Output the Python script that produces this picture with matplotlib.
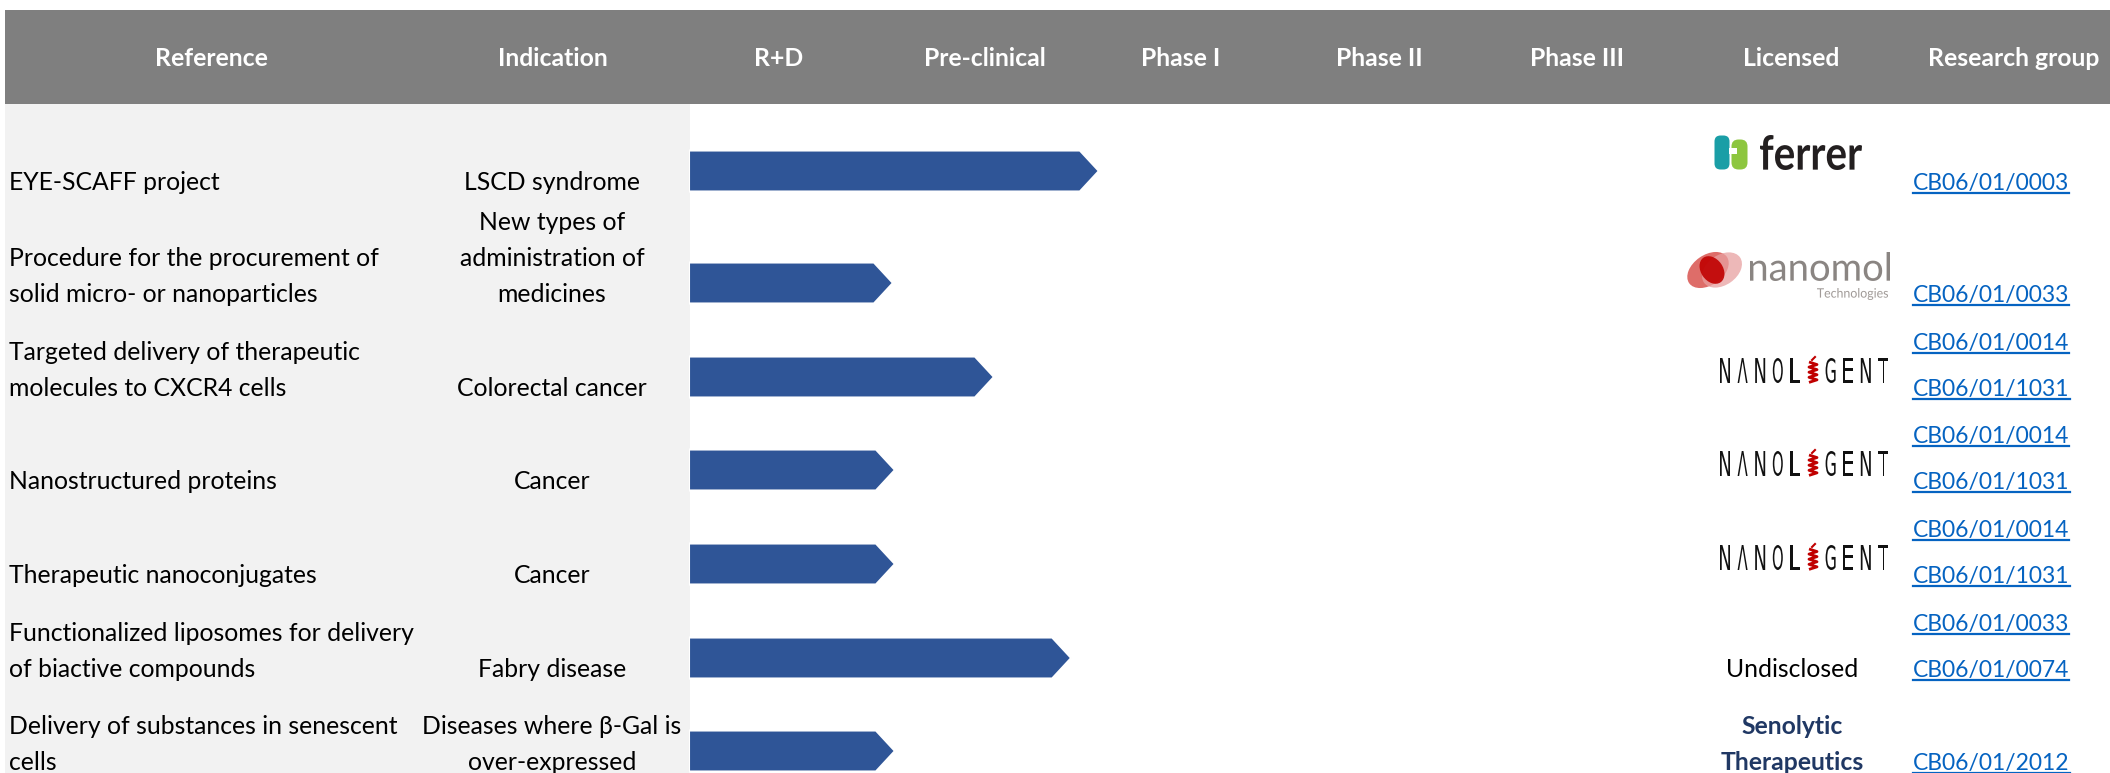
import matplotlib
matplotlib.use("Agg")
import matplotlib.pyplot as plt
from matplotlib.patches import Rectangle, PathPatch, Ellipse, FancyBboxPatch
from matplotlib.textpath import TextPath
from matplotlib.font_manager import FontProperties
from matplotlib.transforms import Affine2D

plt.rcParams['font.family'] = ['Lato', 'DejaVu Sans']

# ---------------- data ----------------
headers = ['Reference', 'Indication', 'R+D', 'Pre-clinical', 'Phase I',
           'Phase II', 'Phase III', 'Licensed', 'Research group']
stages = ['R+D', 'Pre-clinical', 'Phase I', 'Phase II', 'Phase III']
references = ['EYE-SCAFF project',
              'Procedure for the procurement of\nsolid micro- or nanoparticles',
              'Targeted delivery of therapeutic\nmolecules to CXCR4 cells',
              'Nanostructured proteins',
              'Therapeutic nanoconjugates',
              'Functionalized liposomes for delivery\nof biactive compounds',
              'Delivery of substances in senescent\ncells']
indications = ['LSCD syndrome',
               'New types of\nadministration of\nmedicines',
               'Colorectal cancer',
               'Cancer',
               'Cancer',
               'Fabry disease',
               'Diseases where \u03b2-Gal is\nover-expressed']
progress = [2.07, 1.03, 1.54, 1.04, 1.04, 1.93, 1.04]   # in stage-column units
licensed = ['ferrer', 'nanomol', 'nanoligent', 'nanoligent', 'nanoligent',
            'Undisclosed', 'Senolytic\nTherapeutics']
groups = [['CB06/01/0003'],
          ['CB06/01/0033'],
          ['CB06/01/0014', 'CB06/01/1031'],
          ['CB06/01/0014', 'CB06/01/1031'],
          ['CB06/01/0014', 'CB06/01/1031'],
          ['CB06/01/0033', 'CB06/01/0074'],
          ['CB06/01/2012']]

# ---------------- layout ----------------
W, H = 2110, 773
row_base = [190, 302, 396, 489, 583, 677, 770]   # baseline of last text line
line_gap = 36
link_gap = 46
header_x = [211, 553, 779, 985, 1181, 1379, 1577, 1791, 2014]
FS = 17.8
FS_LINK = 16.5

fig = plt.figure(figsize=(W / 100, H / 100), dpi=100)
ax = fig.add_axes([0, 0, 1, 1])
ax.set_xlim(0, W)
ax.set_ylim(H, 0)
ax.axis('off')

# header band and left panel
ax.add_patch(Rectangle((5, 10), W - 5, 94, color='#7f7f7f', lw=0, zorder=1))
ax.add_patch(Rectangle((5, 104), 685, H - 104, color='#f2f2f2', lw=0, zorder=1))

for hx, h in zip(header_x, headers):
    ax.text(hx, 66, h, color='white', fontsize=FS, fontweight='bold',
            ha='center', va='baseline', zorder=3)


def lines_text(x, base, s, ha='left', **kw):
    parts = s.split('\n')
    n = len(parts)
    for k, p in enumerate(parts):
        ax.text(x, base - (n - 1 - k) * line_gap, p, ha=ha, va='baseline',
                fontsize=FS, zorder=3, **kw)


for i in range(len(references)):
    lines_text(9, row_base[i], references[i], color='black')
    lines_text(552, row_base[i], indications[i], ha='center', color='black')

# arrows in a stage-scaled axes
bx0, bw = 689, 5 * 198
axb = fig.add_axes([bx0 / W, 0, bw / W, 1])
axb.set_xlim(0, len(stages))
axb.set_ylim(H, 0)
axb.axis('off')
axb.patch.set_alpha(0)
for i, p in enumerate(progress):
    yc = row_base[i] - 19
    axb.arrow(0, yc, p, 0, width=41, head_width=41, head_length=19 / 198,
              length_includes_head=True, fc='#2f5597', ec='white', lw=1.5,
              zorder=4)


def fit_text(s, x0, x1, ytop, ybot, color, family='DejaVu Sans',
             weight='normal'):
    tp = TextPath((0, 0), s, size=100,
                  prop=FontProperties(family=family, weight=weight))
    bb = tp.get_extents()
    tr = (Affine2D().translate(-bb.x0, -bb.y0)
          .scale((x1 - x0) / bb.width, -(ybot - ytop) / bb.height)
          .translate(x0, ybot))
    ax.add_patch(PathPatch(tr.transform_path(tp), fc=color, ec='none',
                           zorder=5))


def draw_ferrer(yc):
    t, b = yc - 17, yc + 18
    ax.add_patch(FancyBboxPatch((1716, t + 2), 12, b - t - 4,
                                boxstyle='round,pad=1.5,rounding_size=6',
                                fc='#1a9ea6', ec='none', zorder=5))
    ax.add_patch(FancyBboxPatch((1733, t + 6), 13, b - t - 8,
                                boxstyle='round,pad=1.5,rounding_size=7',
                                fc='#8dc63f', ec='none', zorder=5))
    ax.add_patch(Rectangle((1729, t + 13), 8, 6, fc='white', ec='none',
                           zorder=6))
    fit_text('ferrer', 1760, 1862, t, b, '#231f20', family='Lato',
             weight='bold')


def draw_nanomol(yc):
    ax.add_patch(Ellipse((1708, yc), 46, 30, angle=-35, fc='#d9534f',
                         alpha=0.85, ec='none', zorder=5))
    ax.add_patch(Ellipse((1722, yc), 44, 30, angle=-35, fc='#e8a0a0',
                         alpha=0.75, ec='none', zorder=5))
    ax.add_patch(Ellipse((1712, yc), 22, 30, angle=-35, fc='#c00000',
                         alpha=0.9, ec='none', zorder=6))
    fit_text('nanomol', 1750, 1890, yc - 18, yc + 11, '#8a8582',
             family='Lato')
    fit_text('Technologies', 1817, 1888, yc + 18, yc + 30, '#a09a97',
             family='Lato')


def draw_nanoligent(yc):
    letters = 'N\u039bNOLIGENT'
    t, b = yc - 12, yc + 13
    for k, ch in enumerate(letters):
        cx = 1725 + k * 17.6
        if ch == 'I':
            xs, ys = [], []
            for j in range(9):
                ys.append(t + 4 + j * (b - t - 1) / 8 * 0.85)
                xs.append(cx - 4 if j % 2 == 0 else cx + 4)
            ax.plot(xs, ys, color='#c00000', lw=2, zorder=5,
                    solid_capstyle='butt')
            ax.plot([cx - 1, cx + 2], [t + 2, t - 1], color='#c00000', lw=1.5,
                    zorder=5)
        else:
            fit_text(ch, cx - 5, cx + 5, t, b, '#111111')


for i, lic in enumerate(licensed):
    base = row_base[i]
    if lic == 'ferrer':
        draw_ferrer(base - 38)
    elif lic == 'nanomol':
        draw_nanomol(base - 32)
    elif lic == 'nanoligent':
        draw_nanoligent(base - 26)
    elif lic.startswith('Senolytic'):
        lines_text(1792, base, lic, ha='center', color='#203864',
                   fontweight='bold')
    else:
        lines_text(1792, base, lic, ha='center', color='black')

# research group links
renderer = fig.canvas.get_renderer()
for i, gl in enumerate(groups):
    n = len(gl)
    for k, g in enumerate(gl):
        y = row_base[i] - (n - 1 - k) * link_gap
        t = ax.text(1913, y, g, color='#0563c1', fontsize=FS_LINK, ha='left',
                    va='baseline', zorder=3)
        bb = t.get_window_extent(renderer)
        ax.plot([bb.x0, bb.x1], [y + 3, y + 3], color='#0563c1', lw=1.6,
                zorder=3)

fig.savefig('out.png', dpi=100)
